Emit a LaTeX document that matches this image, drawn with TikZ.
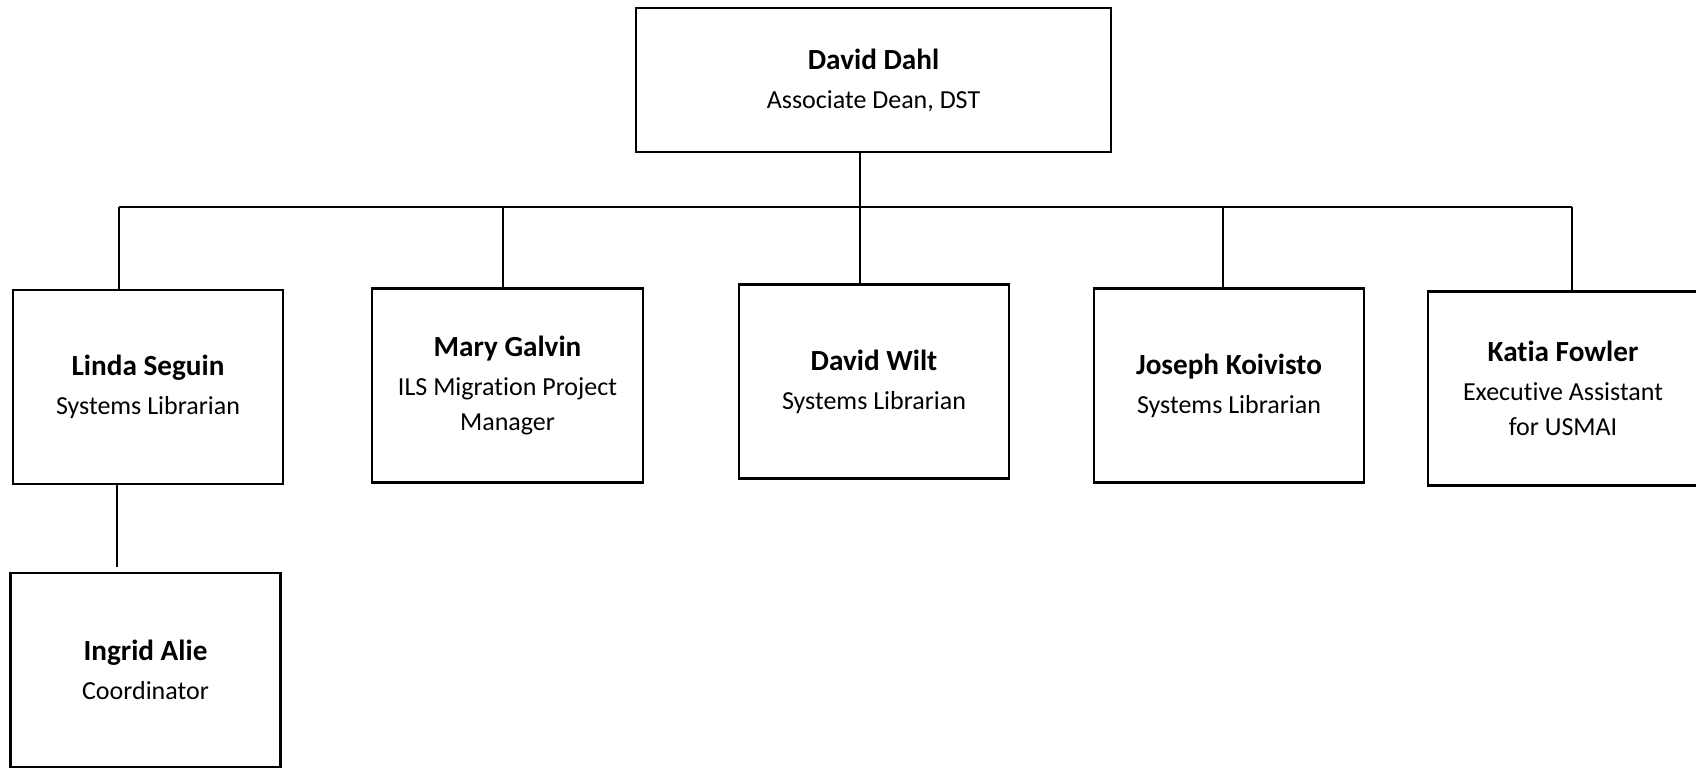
\documentclass[tikz,border=0pt]{standalone}
\usepackage{fontspec}
\setmainfont[Ligatures={NoCommon}]{Carlito}
\newcommand{\pname}[1]{{\fontsize{14.6}{17.5}\selectfont\bfseries #1}\\[2pt]}
\begin{document}
\begin{tikzpicture}[x=0.5pt,y=-0.5pt,
  person/.style={draw, line width=1.4pt, rectangle, inner sep=0pt, align=center,
    minimum width=135pt, minimum height=97pt,
    font=\fontsize{13}{17.5}\selectfont},
  link/.style={line width=0.7pt}]
\useasboundingbox (0,0) rectangle (1696,767);
\node[person, minimum width=237.5pt, minimum height=72pt] (dahl) at (873.5,80) {\pname{David Dahl}Associate Dean, DST};
\node[person] (linda) at (148,387) {\pname{Linda Seguin}Systems Librarian};
\node[person, minimum width=135.5pt] (mary) at (507.5,385.5) {\pname{Mary Galvin}ILS Migration Project\\Manager};
\node[person] (wilt) at (874,381.5) {\pname{David Wilt}Systems Librarian};
\node[person] (joseph) at (1229,385.5) {\pname{Joseph Koivisto}Systems Librarian};
\node[person] (katia) at (1563,388.5) {\pname{Katia Fowler}Executive Assistant\\for USMAI};
\node[person] (ingrid) at (145.5,670) {\pname{Ingrid Alie}Coordinator};
% bus coordinates
\coordinate (lx) at (119,207);
\coordinate (mx) at (503,207);
\coordinate (dx) at (860,207);
\coordinate (jx) at (1223,207);
\coordinate (kx) at (1572,207);
\coordinate (ix) at (117,567);
\draw[link] (lx) -- (kx);
\draw[link] (dahl.south -| dx) -- (wilt.north -| dx);
\draw[link] (lx) -- (linda.north -| lx);
\draw[link] (mx) -- (mary.north -| mx);
\draw[link] (jx) -- (joseph.north -| jx);
\draw[link] (kx) -- (katia.north -| kx);
\draw[link] (linda.south -| ix) -- (ix);
\end{tikzpicture}
\end{document}
